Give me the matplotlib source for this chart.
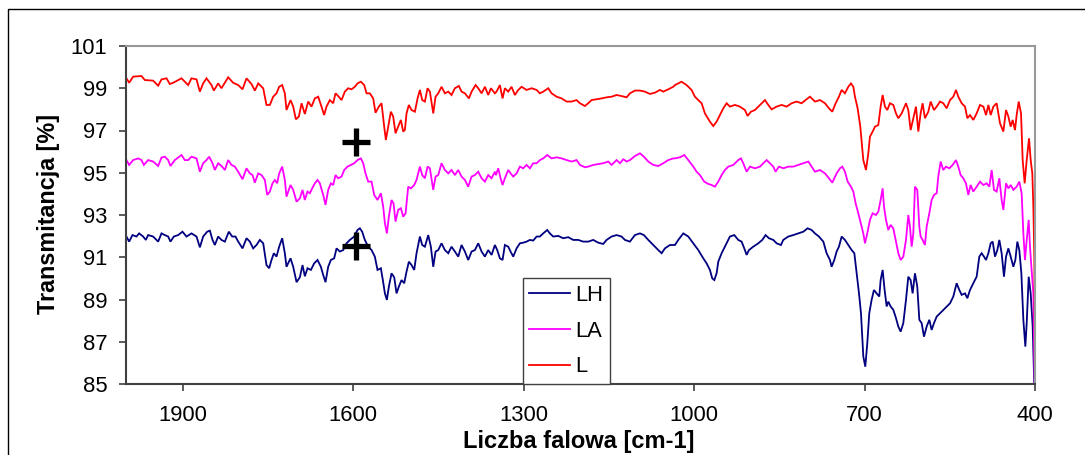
import matplotlib
matplotlib.use("Agg")
import matplotlib.pyplot as plt
from matplotlib.patches import Rectangle

plt.rcParams['font.family'] = ['Liberation Sans', 'DejaVu Sans']

# ---------------- data ----------------
series_labels = ["LH", "LA", "L"]
series_colors = ["#000080", "#FF00FF", "#FF0000"]

L_wn = [1999.2, 1994.5, 1987.4, 1972.8, 1966.9, 1952.2, 1943.4, 1937.5, 1928.7, 1922.9, 1917.0, 1902.3, 1896.5, 1890.6, 1884.7, 1875.9, 1870.0, 1864.2, 1858.3, 1849.5, 1845.4, 1837.8, 1831.9, 1820.2, 1811.4, 1802.5, 1794.9, 1787.9, 1779.1, 1773.2, 1767.3, 1758.5, 1752.7, 1746.8, 1740.9, 1735.1, 1730.4, 1725.1, 1720.4, 1717.5, 1710.4, 1705.7, 1701.0, 1695.7, 1691.0, 1685.2, 1679.3, 1673.5, 1667.6, 1661.7, 1655.9, 1651.2, 1647.1, 1641.2, 1635.3, 1631.2, 1626.5, 1620.6, 1614.8, 1608.9, 1603.0, 1597.2, 1592.5, 1586.6, 1580.7, 1576.6, 1570.8, 1564.9, 1560.8, 1554.9, 1550.2, 1545.5, 1542.6, 1538.5, 1533.8, 1529.7, 1525.6, 1520.9, 1516.2, 1512.1, 1509.1, 1506.2, 1502.1, 1497.4, 1491.5, 1486.8, 1482.7, 1478.6, 1473.9, 1469.2, 1465.1, 1459.2, 1455.1, 1450.4, 1444.6, 1438.7, 1432.8, 1427.0, 1421.1, 1414.1, 1409.4, 1403.5, 1396.4, 1391.7, 1384.7, 1380.0, 1374.1, 1368.3, 1362.4, 1357.7, 1350.7, 1347.8, 1341.9, 1337.2, 1333.1, 1327.2, 1321.4, 1315.5, 1309.6, 1303.7, 1294.9, 1286.1, 1277.3, 1271.5, 1265.6, 1256.8, 1250.9, 1242.1, 1233.3, 1224.5, 1215.7, 1206.9, 1201.0, 1192.2, 1186.4, 1180.5, 1171.7, 1162.9, 1154.1, 1145.3, 1136.5, 1127.7, 1118.9, 1113.0, 1104.2, 1095.4, 1086.6, 1077.8, 1069.0, 1060.2, 1054.3, 1045.5, 1036.7, 1033.8, 1022.1, 1013.3, 1004.5, 998.6, 992.7, 986.8, 981.0, 972.2, 966.3, 960.4, 954.6, 948.7, 942.8, 937.0, 928.2, 919.4, 910.6, 905.9, 900.0, 893.0, 884.1, 875.3, 869.5, 863.6, 854.8, 846.0, 837.2, 828.4, 819.6, 810.8, 802.0, 796.1, 787.3, 778.5, 769.7, 762.7, 756.8, 750.9, 745.1, 740.3, 734.5, 728.6, 723.9, 719.8, 716.9, 712.2, 707.5, 702.2, 697.5, 693.4, 690.5, 685.8, 681.7, 675.8, 671.7, 668.2, 664.1, 660.0, 655.3, 649.4, 644.7, 640.6, 634.7, 627.1, 623.0, 618.9, 614.2, 609.5, 605.4, 601.3, 597.8, 593.7, 587.8, 583.7, 577.8, 573.1, 567.2, 561.4, 555.5, 549.6, 543.8, 539.1, 535.0, 529.1, 523.2, 519.1, 514.4, 508.6, 502.7, 496.8, 490.9, 486.2, 482.1, 478.0, 473.3, 467.5, 461.6, 455.7, 451.0, 446.9, 442.8, 439.3, 435.2, 432.3, 428.7, 424.6, 421.7, 418.2, 414.6, 410.5, 407.6, 404.7, 402.9, 401.1, 400.0]
L_val = [99.47, 99.26, 99.55, 99.58, 99.39, 99.36, 99.12, 99.42, 99.47, 99.20, 99.26, 99.47, 99.31, 99.15, 99.47, 99.42, 98.84, 99.23, 99.47, 99.15, 98.89, 99.23, 99.00, 99.52, 99.26, 99.15, 98.95, 99.47, 99.20, 98.89, 99.23, 99.00, 98.21, 98.21, 98.60, 98.76, 99.07, 99.15, 98.76, 97.97, 98.44, 98.13, 97.53, 97.66, 98.29, 97.78, 98.37, 98.13, 98.52, 98.60, 98.13, 97.73, 98.13, 98.44, 98.29, 98.76, 98.63, 98.44, 98.84, 99.00, 98.95, 99.07, 99.23, 99.31, 99.15, 98.76, 98.76, 98.52, 97.84, 98.13, 98.29, 97.18, 96.55, 97.18, 97.89, 97.66, 96.87, 97.18, 97.50, 96.95, 97.03, 97.81, 98.21, 97.97, 97.89, 98.52, 98.92, 98.44, 98.37, 99.00, 98.84, 97.81, 98.60, 98.76, 99.07, 98.76, 98.84, 98.68, 99.00, 99.11, 98.84, 98.76, 98.52, 98.84, 99.15, 99.00, 98.76, 99.07, 98.68, 99.00, 98.76, 98.84, 99.15, 98.52, 99.00, 98.84, 99.07, 98.68, 98.92, 99.07, 98.92, 99.00, 98.92, 98.76, 98.84, 99.00, 98.76, 98.60, 98.52, 98.37, 98.37, 98.44, 98.29, 98.16, 98.29, 98.44, 98.48, 98.52, 98.57, 98.60, 98.68, 98.63, 98.57, 98.76, 98.89, 98.89, 98.84, 98.73, 98.79, 98.92, 98.84, 98.95, 99.07, 99.15, 99.31, 99.15, 98.92, 98.60, 98.44, 98.29, 97.81, 97.42, 97.21, 97.42, 97.73, 98.05, 98.29, 98.13, 98.21, 98.13, 97.97, 97.69, 97.89, 97.97, 98.21, 98.44, 98.21, 98.00, 98.13, 98.21, 98.13, 98.29, 98.37, 98.29, 98.48, 98.60, 98.37, 98.44, 98.29, 98.05, 97.89, 98.29, 98.60, 98.92, 98.76, 99.07, 99.23, 99.07, 98.60, 98.05, 97.18, 95.60, 95.13, 95.92, 96.71, 96.95, 97.18, 97.26, 98.13, 98.68, 98.13, 97.97, 98.29, 98.21, 97.81, 97.58, 97.81, 98.29, 97.97, 97.02, 97.58, 98.13, 96.95, 97.81, 98.29, 97.58, 97.89, 98.37, 97.97, 98.13, 98.37, 98.29, 98.05, 98.44, 98.60, 98.92, 98.60, 98.29, 98.13, 97.58, 97.73, 97.50, 97.81, 98.21, 98.13, 97.73, 98.21, 97.73, 98.13, 98.29, 97.34, 96.95, 97.97, 97.66, 97.18, 97.50, 97.02, 97.73, 98.37, 97.81, 95.60, 94.50, 95.60, 96.63, 95.60, 94.97, 93.40, 90.87, 85.00]

LA_wn = [1999.2, 1994.5, 1987.4, 1978.6, 1972.8, 1968.6, 1961.0, 1952.2, 1943.4, 1937.5, 1931.7, 1925.8, 1921.7, 1914.1, 1902.3, 1896.5, 1890.6, 1884.7, 1875.9, 1870.0, 1864.2, 1858.3, 1853.6, 1847.7, 1843.6, 1837.8, 1831.9, 1826.0, 1820.2, 1814.3, 1808.4, 1802.5, 1794.9, 1787.9, 1782.0, 1777.3, 1773.2, 1767.3, 1761.5, 1755.6, 1751.5, 1746.8, 1742.1, 1738.0, 1733.9, 1730.4, 1725.1, 1720.4, 1717.5, 1710.4, 1705.7, 1699.8, 1694.0, 1689.3, 1685.2, 1680.5, 1676.4, 1672.3, 1667.6, 1662.9, 1658.8, 1652.9, 1648.8, 1644.1, 1639.4, 1635.3, 1631.2, 1626.5, 1620.6, 1615.9, 1610.1, 1604.2, 1598.3, 1592.5, 1586.6, 1582.5, 1578.4, 1573.7, 1567.8, 1563.1, 1557.3, 1551.4, 1547.3, 1544.3, 1540.8, 1537.3, 1532.6, 1529.1, 1525.6, 1520.9, 1516.2, 1512.1, 1507.9, 1503.3, 1498.6, 1492.7, 1488.6, 1482.7, 1478.6, 1473.9, 1469.2, 1465.1, 1459.2, 1455.1, 1450.4, 1444.6, 1438.7, 1432.8, 1427.0, 1421.1, 1415.2, 1409.4, 1403.5, 1397.6, 1391.7, 1385.9, 1380.0, 1374.1, 1368.3, 1362.4, 1356.5, 1350.7, 1348.9, 1344.8, 1340.7, 1337.2, 1333.1, 1327.2, 1323.1, 1318.4, 1312.5, 1306.7, 1300.8, 1294.9, 1289.1, 1283.2, 1277.3, 1271.5, 1265.6, 1258.6, 1250.9, 1242.1, 1233.3, 1224.5, 1215.7, 1206.9, 1201.0, 1192.2, 1186.4, 1177.6, 1168.8, 1160.0, 1151.2, 1145.3, 1136.5, 1130.6, 1124.7, 1118.9, 1113.0, 1104.2, 1095.4, 1088.4, 1080.7, 1071.9, 1063.1, 1054.3, 1045.5, 1036.7, 1033.8, 1025.0, 1017.4, 1010.3, 1001.5, 995.7, 989.8, 982.2, 975.1, 969.2, 963.4, 957.5, 951.6, 945.8, 939.9, 931.1, 922.3, 917.6, 913.5, 907.6, 901.7, 892.9, 884.1, 878.3, 872.4, 866.5, 860.7, 856.6, 850.7, 843.1, 834.3, 825.5, 816.6, 807.8, 799.0, 793.2, 787.3, 778.5, 769.7, 762.7, 756.8, 749.2, 743.3, 739.2, 734.5, 729.8, 723.9, 719.8, 715.7, 711.0, 705.1, 702.0, 699.3, 695.2, 690.5, 685.8, 679.9, 675.8, 671.7, 668.2, 665.8, 662.3, 658.2, 654.1, 649.4, 644.7, 640.6, 636.5, 631.8, 627.1, 623.0, 620.1, 617.1, 614.2, 611.3, 607.2, 603.6, 601.3, 597.8, 593.7, 590.7, 586.0, 581.9, 577.8, 573.1, 570.2, 566.1, 561.4, 556.7, 550.8, 544.9, 539.1, 535.0, 530.9, 526.2, 521.5, 517.4, 513.3, 508.6, 502.7, 496.8, 490.9, 485.1, 480.4, 476.3, 472.2, 467.5, 462.8, 458.7, 455.7, 451.0, 446.9, 442.8, 438.1, 432.3, 427.6, 423.5, 420.5, 417.6, 414.6, 411.1, 408.8, 406.4, 402.9, 400.6]
LA_val = [95.60, 95.37, 95.60, 95.68, 95.60, 95.37, 95.60, 95.53, 95.32, 95.72, 95.76, 95.60, 95.32, 95.60, 95.84, 95.60, 95.60, 95.76, 95.68, 95.05, 95.45, 95.60, 95.76, 95.45, 95.13, 95.45, 95.32, 95.13, 95.60, 95.37, 95.29, 95.05, 94.69, 95.21, 94.97, 94.89, 94.53, 94.97, 94.89, 94.66, 93.95, 94.11, 94.50, 94.66, 94.50, 94.97, 95.29, 94.66, 93.87, 94.42, 94.19, 93.63, 93.79, 94.19, 93.71, 94.11, 94.03, 94.26, 94.50, 94.66, 94.50, 93.95, 93.48, 94.19, 94.50, 94.42, 94.89, 94.74, 94.82, 95.13, 95.29, 95.37, 95.45, 95.60, 95.68, 95.45, 94.97, 94.58, 94.58, 93.95, 93.71, 94.03, 93.40, 92.61, 92.13, 92.92, 93.71, 93.55, 92.69, 93.24, 93.32, 92.92, 93.08, 94.34, 94.26, 94.42, 94.66, 95.29, 94.89, 94.74, 95.29, 95.21, 94.19, 94.82, 94.89, 95.45, 95.13, 94.97, 95.13, 94.89, 95.13, 94.82, 94.66, 94.34, 94.82, 94.89, 95.05, 94.74, 94.58, 94.89, 94.74, 95.05, 94.89, 95.21, 94.74, 94.42, 94.74, 95.13, 94.97, 94.82, 94.97, 95.29, 95.21, 95.37, 95.21, 95.45, 95.45, 95.60, 95.68, 95.84, 95.68, 95.73, 95.68, 95.60, 95.53, 95.60, 95.37, 95.26, 95.29, 95.37, 95.41, 95.45, 95.53, 95.37, 95.60, 95.45, 95.64, 95.53, 95.60, 95.79, 95.92, 95.76, 95.53, 95.37, 95.32, 95.45, 95.60, 95.68, 95.68, 95.73, 95.84, 95.60, 95.29, 95.05, 94.89, 94.58, 94.47, 94.42, 94.34, 94.58, 94.89, 95.13, 95.29, 95.37, 95.60, 95.68, 95.45, 95.05, 95.29, 95.21, 95.29, 95.45, 95.60, 95.45, 95.29, 95.05, 95.29, 95.21, 95.29, 95.29, 95.37, 95.45, 95.53, 95.29, 95.05, 95.13, 94.97, 94.74, 94.53, 94.97, 95.21, 95.29, 95.05, 94.58, 94.34, 94.11, 93.55, 93.08, 92.45, 92.10, 91.66, 92.13, 92.77, 93.08, 93.00, 93.16, 93.71, 94.26, 93.40, 92.77, 92.29, 92.53, 92.37, 91.74, 91.19, 90.87, 91.03, 91.82, 93.00, 92.45, 91.50, 92.13, 94.34, 94.19, 92.45, 91.98, 91.82, 91.58, 92.45, 93.08, 93.71, 93.95, 94.03, 94.82, 95.53, 95.13, 95.29, 95.21, 95.37, 95.60, 95.29, 94.89, 94.74, 94.50, 93.95, 94.42, 94.11, 94.34, 94.58, 94.42, 94.50, 94.34, 95.13, 94.19, 94.11, 94.74, 93.71, 93.24, 94.50, 94.26, 94.42, 94.19, 94.34, 94.58, 94.03, 92.13, 90.87, 91.82, 92.77, 91.50, 90.55, 89.29, 85.00]

LH_wn = [1999.2, 1994.5, 1988.6, 1981.6, 1976.9, 1969.8, 1965.1, 1961.0, 1952.2, 1943.4, 1937.5, 1931.7, 1925.8, 1921.7, 1915.8, 1908.2, 1900.6, 1893.5, 1884.7, 1875.9, 1870.0, 1864.2, 1857.1, 1852.4, 1847.7, 1843.6, 1837.8, 1831.9, 1826.0, 1819.0, 1813.1, 1807.3, 1802.5, 1794.9, 1787.9, 1782.0, 1776.1, 1770.3, 1764.4, 1758.5, 1752.7, 1748.0, 1743.9, 1739.8, 1735.1, 1730.4, 1725.1, 1720.4, 1717.5, 1710.4, 1705.7, 1699.8, 1694.0, 1689.3, 1685.2, 1680.5, 1674.6, 1668.8, 1662.9, 1657.0, 1652.9, 1648.8, 1644.1, 1639.4, 1633.6, 1629.4, 1623.6, 1617.7, 1611.8, 1606.0, 1598.3, 1592.5, 1588.4, 1584.3, 1579.6, 1573.7, 1567.8, 1562.0, 1557.3, 1551.4, 1547.3, 1544.3, 1540.8, 1537.3, 1532.6, 1527.9, 1523.8, 1519.7, 1515.0, 1510.3, 1506.2, 1502.1, 1497.4, 1492.7, 1488.6, 1482.7, 1478.6, 1473.9, 1468.0, 1463.4, 1459.2, 1455.1, 1450.4, 1444.6, 1438.7, 1432.8, 1427.0, 1421.1, 1415.2, 1409.4, 1403.5, 1397.6, 1391.7, 1385.9, 1380.0, 1374.1, 1368.3, 1362.4, 1356.5, 1350.7, 1346.6, 1341.9, 1337.2, 1333.1, 1327.2, 1323.1, 1318.4, 1312.5, 1306.7, 1300.8, 1294.9, 1289.1, 1283.2, 1277.3, 1271.5, 1265.6, 1258.6, 1253.9, 1248.0, 1239.2, 1230.4, 1221.6, 1212.8, 1204.0, 1195.2, 1186.4, 1177.6, 1168.8, 1160.0, 1154.1, 1145.3, 1136.5, 1127.7, 1121.8, 1113.0, 1104.2, 1095.4, 1088.4, 1080.7, 1071.9, 1063.1, 1057.2, 1051.4, 1042.6, 1033.8, 1027.9, 1019.1, 1010.3, 1001.5, 992.7, 983.9, 978.0, 972.2, 968.1, 964.5, 960.4, 957.5, 951.6, 945.8, 937.0, 929.3, 922.3, 916.4, 910.6, 907.6, 903.5, 895.9, 887.1, 880.0, 874.2, 868.3, 860.7, 854.8, 847.2, 843.1, 834.3, 825.5, 816.6, 807.8, 800.2, 793.2, 787.3, 780.3, 772.6, 766.8, 760.9, 758.0, 753.3, 749.2, 745.1, 740.3, 734.5, 728.6, 722.7, 718.0, 713.9, 709.8, 706.3, 704.0, 702.2, 698.7, 695.2, 691.7, 687.6, 683.5, 678.8, 674.1, 671.7, 668.2, 664.7, 661.1, 658.2, 654.1, 649.4, 644.7, 640.6, 636.5, 631.8, 627.1, 623.0, 618.9, 615.4, 611.3, 607.2, 603.6, 599.5, 595.4, 590.7, 586.0, 581.9, 577.8, 573.1, 567.2, 561.4, 555.5, 549.6, 543.8, 537.9, 533.2, 529.1, 523.2, 519.1, 514.4, 508.6, 502.7, 498.0, 493.9, 489.8, 486.2, 482.1, 478.0, 474.5, 470.4, 466.3, 462.8, 458.7, 454.6, 451.0, 446.9, 442.8, 438.1, 434.6, 431.1, 427.6, 424.0, 420.5, 417.0, 414.6, 411.1, 407.6, 404.1, 401.3]
LH_val = [91.98, 91.74, 92.05, 91.98, 92.13, 91.98, 91.82, 92.05, 91.98, 91.74, 92.13, 92.05, 91.98, 91.74, 91.98, 92.05, 92.21, 91.98, 92.13, 91.98, 91.47, 91.98, 92.21, 92.26, 91.82, 91.58, 91.98, 91.82, 91.74, 92.21, 91.98, 91.98, 91.74, 91.42, 91.90, 91.74, 91.42, 91.58, 91.82, 91.66, 90.63, 90.48, 90.87, 91.19, 91.03, 91.50, 91.90, 91.19, 90.55, 90.95, 90.55, 89.82, 90.05, 90.63, 90.10, 90.48, 90.40, 90.71, 90.87, 90.55, 90.16, 89.82, 90.55, 90.87, 90.95, 91.42, 91.27, 91.34, 91.66, 91.82, 91.98, 92.29, 92.37, 92.21, 91.82, 91.50, 91.34, 91.03, 90.40, 90.48, 89.82, 89.29, 88.98, 89.61, 90.24, 90.05, 89.29, 89.61, 89.92, 89.77, 90.32, 90.79, 90.63, 90.40, 91.19, 91.98, 91.58, 91.50, 92.05, 91.50, 90.55, 91.27, 91.34, 91.66, 91.34, 91.19, 91.50, 91.27, 91.03, 91.58, 91.27, 90.87, 91.27, 91.34, 91.66, 91.27, 91.03, 91.34, 91.11, 91.58, 91.34, 90.95, 90.87, 91.58, 91.50, 91.27, 91.03, 91.42, 91.66, 91.69, 91.74, 91.82, 91.79, 91.98, 91.98, 92.13, 92.29, 92.13, 91.98, 92.01, 91.90, 91.95, 91.82, 91.82, 91.74, 91.74, 91.82, 91.69, 91.63, 91.82, 91.98, 92.05, 91.98, 91.82, 91.74, 92.05, 92.13, 92.05, 91.82, 91.58, 91.34, 91.19, 91.42, 91.58, 91.58, 91.82, 92.13, 91.98, 91.66, 91.34, 90.95, 90.71, 90.40, 90.00, 89.92, 90.24, 90.79, 91.19, 91.50, 91.98, 92.05, 91.82, 91.74, 91.34, 91.11, 91.34, 91.50, 91.66, 91.82, 92.05, 91.90, 91.82, 91.66, 91.58, 91.82, 91.98, 92.05, 92.13, 92.21, 92.37, 92.29, 92.13, 91.98, 91.74, 91.19, 90.87, 90.55, 90.87, 91.27, 91.50, 91.98, 91.82, 91.58, 91.34, 91.19, 90.24, 89.29, 88.35, 87.24, 86.30, 85.82, 86.93, 88.35, 88.98, 89.45, 89.29, 89.14, 89.92, 90.40, 89.45, 88.67, 88.90, 88.67, 88.51, 88.12, 87.72, 87.48, 87.88, 88.98, 90.08, 89.92, 89.29, 90.24, 89.61, 88.04, 87.88, 87.24, 87.72, 88.04, 87.56, 87.88, 88.19, 88.35, 88.51, 88.67, 88.82, 89.14, 89.77, 89.45, 89.22, 89.29, 89.06, 89.45, 89.77, 90.08, 91.03, 91.19, 91.03, 90.87, 91.19, 91.66, 91.74, 91.03, 91.34, 91.82, 91.19, 90.08, 91.03, 91.42, 91.03, 90.55, 90.87, 91.74, 91.34, 90.24, 88.04, 86.77, 87.88, 90.08, 89.29, 87.72, 85.00]

# black "+" markers
plus_wn = [1595, 1595]
plus_val = [96.46, 91.53]

x_ticks = [1900, 1600, 1300, 1000, 700, 400]
y_ticks = [85, 87, 89, 91, 93, 95, 97, 99, 101]
x_label = "Liczba falowa [cm-1]"
y_label = "Transmitancja [%]"

# ---------------- figure ----------------
W, H = 1085, 455
fig = plt.figure(figsize=(W / 100, H / 100), dpi=100)
fig.patch.set_facecolor("white")

# outer chart border (extends beyond right/bottom edge)
fig.patches.append(Rectangle((8 / W, -0.1), 1.2, 1.1 - 9 / H, transform=fig.transFigure,
                             fill=False, edgecolor="black", linewidth=1.0))

left, right, top, bottom = 126, 1035, 46, 384
ax = fig.add_axes([left / W, 1 - bottom / H, (right - left) / W, (bottom - top) / H])

data = [(LH_wn, LH_val), (LA_wn, LA_val), (L_wn, L_val)]
handles = []
for (wn, val), lab, col in zip(data, series_labels, series_colors):
    h, = ax.plot(wn, val, color=col, linewidth=1.3, label=lab, solid_joinstyle="miter")
    handles.append(h)

ax.plot(plus_wn, plus_val, linestyle="none", marker="+", markersize=19.5,
        markeredgewidth=3.8, color="black", zorder=6)

ax.set_xlim(2000, 400)
ax.set_ylim(85, 101)
ax.set_xticks(x_ticks)
ax.set_yticks(y_ticks)

for s in ["left", "bottom"]:
    ax.spines[s].set_color("#404040")
    ax.spines[s].set_linewidth(1.5)
for s in ["top", "right"]:
    ax.spines[s].set_color("#999999")
    ax.spines[s].set_linewidth(1.5)

ax.tick_params(axis="both", direction="out", length=5, width=1.2, color="#404040",
               labelsize=15.8, labelcolor="black")
ax.tick_params(axis="y", pad=8.5)
ax.tick_params(axis="x", pad=10)

ax.set_xlabel(x_label, fontsize=17, fontweight="bold")
ax.set_ylabel(y_label, fontsize=16.8, fontweight="bold")
ax.xaxis.set_label_coords(0.4986, -0.171)
ax.xaxis.label.set_verticalalignment("center")
ax.yaxis.set_label_coords(-0.085, 0.503)
ax.yaxis.label.set_verticalalignment("center")

leg = ax.legend(handles, series_labels, loc="upper left",
                bbox_to_anchor=(522.7 / W, 1 - 278 / H), bbox_transform=fig.transFigure,
                borderaxespad=0, frameon=True, fancybox=False, edgecolor="#404040",
                framealpha=1, fontsize=15.8, handlelength=1.85, handletextpad=0.25,
                labelspacing=0.68, borderpad=0.3)
leg.get_frame().set_linewidth(1.0)

fig.savefig("out.png", dpi=100)
